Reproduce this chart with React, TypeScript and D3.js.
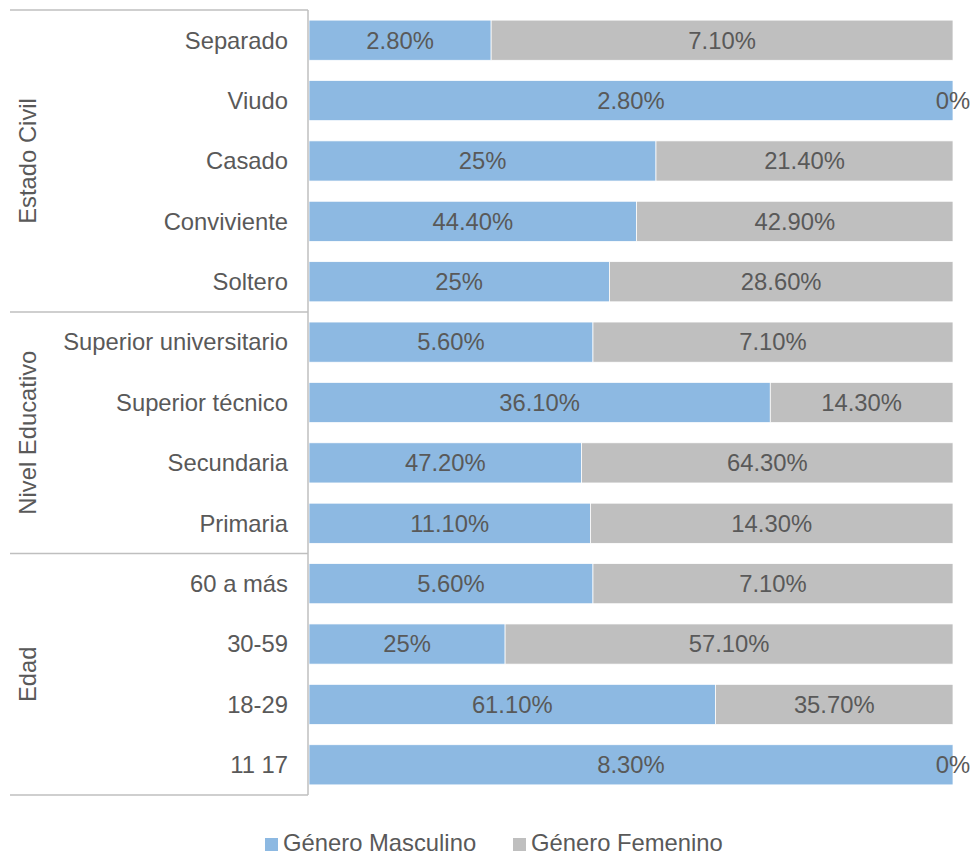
import React from "react";
import * as d3 from "d3";

const categories = [
  "Separado", "Viudo", "Casado", "Conviviente", "Soltero",
  "Superior universitario", "Superior técnico", "Secundaria", "Primaria",
  "60 a más", "30-59", "18-29", "11 17",
];
const maleValues = [2.8, 2.8, 25, 44.4, 25, 5.6, 36.1, 47.2, 11.1, 5.6, 25, 61.1, 8.3];
const femaleValues = [7.1, 0, 21.4, 42.9, 28.6, 7.1, 14.3, 64.3, 14.3, 7.1, 57.1, 35.7, 0];
const groups = [
  { name: "Estado Civil", start: 0, end: 5 },
  { name: "Nivel Educativo", start: 5, end: 9 },
  { name: "Edad", start: 9, end: 13 },
];
const seriesNames = ["Género Masculino", "Género Femenino"];
const colors = ["#8DB9E2", "#BFBFBF"];

const fmt = (v: number) => (Number.isInteger(v) ? `${v}%` : `${v.toFixed(2)}%`);

export default function App() {
  const W = 973, H = 856;
  const left = 309, right = 953, top = 10, bottom = 795;
  const x = d3.scaleLinear().domain([0, 1]).range([left, right]);
  const y = d3.scaleBand<string>().domain(categories).range([top, bottom]).paddingInner(0.335).paddingOuter(0.1675);
  const font = "'Liberation Sans', Arial, sans-serif";
  const txt = "#595959";
  const fs = 23.8;
  const bw = y.bandwidth();
  const step = y.step();
  const rowY = (i: number) => top + i * step;

  return (
    <svg width={W} height={H} style={{ position: "absolute", left: 0, top: 0 }} fontFamily={font}>
      {categories.map((c, i) => {
        const total = maleValues[i] + femaleValues[i];
        const m = maleValues[i] / total;
        const y0 = y(c)!;
        const xm0 = x(0), xm1 = x(m), xf1 = x(1);
        const cy = y0 + bw / 2;
        return (
          <g key={c}>
            <rect x={xm0} y={y0} width={xm1 - xm0} height={bw} fill={colors[0]} stroke="#fff" strokeWidth={0.75} />
            {femaleValues[i] > 0 && (
              <rect x={xm1} y={y0} width={xf1 - xm1} height={bw} fill={colors[1]} stroke="#fff" strokeWidth={0.75} />
            )}
            <text x={(xm0 + xm1) / 2} y={cy} dy="0.35em" textAnchor="middle" fontSize={fs} fill={txt}>{fmt(maleValues[i])}</text>
            <text x={(xm1 + xf1) / 2} y={cy} dy="0.35em" textAnchor="middle" fontSize={fs} fill={txt}>{fmt(femaleValues[i])}</text>
            <text x={288} y={cy} dy="0.35em" textAnchor="end" fontSize={fs} fill={txt}>{c}</text>
          </g>
        );
      })}
      <line x1={left - 1} x2={left - 1} y1={top} y2={bottom} stroke="#BFBFBF" strokeWidth={1.5} />
      {[0, 5, 9, 13].map((k) => (
        <line key={k} x1={10} x2={left - 1} y1={rowY(k)} y2={rowY(k)} stroke="#BFBFBF" strokeWidth={1.5} />
      ))}
      {groups.map((g) => {
        const cy = (rowY(g.start) + rowY(g.end)) / 2;
        return (
          <text key={g.name} transform={`translate(28,${cy}) rotate(-90)`} dy="0.35em" textAnchor="middle" fontSize={fs} fill={txt}>
            {g.name}
          </text>
        );
      })}
      <g>
        <rect x={265} y={838} width={13} height={13} fill={colors[0]} />
        <text x={283} y={851} fontSize={fs} fill={txt}>{seriesNames[0]}</text>
        <rect x={513} y={838} width={13} height={13} fill={colors[1]} />
        <text x={531} y={851} fontSize={fs} fill={txt}>{seriesNames[1]}</text>
      </g>
    </svg>
  );
}
